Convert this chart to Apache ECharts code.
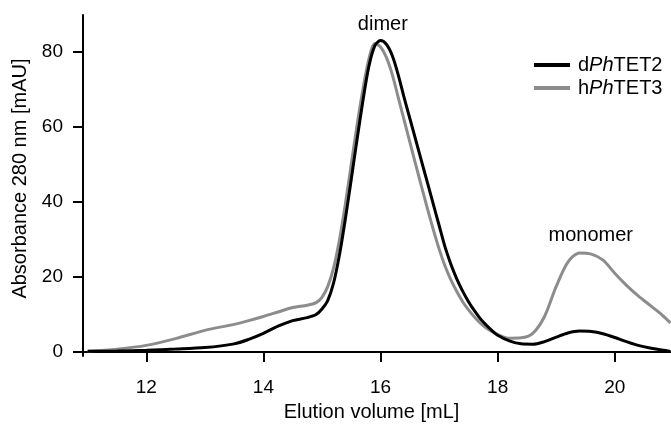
<!DOCTYPE html>
<html>
<head>
<meta charset="utf-8">
<script src="https://cdn.jsdelivr.net/npm/echarts@6/dist/echarts.min.js"></script>
<style>
html,body{margin:0;padding:0;background:#fff;}
#chart{width:671px;height:427px;}
</style>
</head>
<body>
<div id="chart"></div>
<script>
// Elution volume (mL)
const volume = [11.0, 11.5, 12.0, 12.5, 13.0, 13.5, 13.75, 14.0, 14.25, 14.5, 14.75, 14.9, 15.0, 15.1, 15.2, 15.3, 15.4, 15.5, 15.6, 15.7, 15.8, 15.9, 16.0, 16.1, 16.2, 16.3, 16.4, 16.5, 16.6, 16.7, 16.8, 16.9, 17.0, 17.1, 17.2, 17.3, 17.4, 17.5, 17.6, 17.7, 17.8, 17.9, 18.0, 18.2, 18.4, 18.6, 18.8, 19.0, 19.2, 19.4, 19.6, 19.8, 20.0, 20.2, 20.4, 20.6, 20.8, 20.95];
// Absorbance 280 nm (mAU)
const dPhTET2 = [0.2, 0.3, 0.5, 0.8, 1.2, 2.2, 3.4, 5.0, 6.9, 8.4, 9.2, 10.0, 11.5, 13.8, 18.5, 26, 35.5, 46, 56.7, 67, 76, 81.5, 83.0, 82, 79, 74, 68, 62.3, 56.6, 50.9, 45.2, 39.5, 33.8, 28.1, 23.5, 19.6, 16.3, 13.5, 11.1, 9.0, 7.3, 5.8, 4.5, 3.0, 2.2, 2.1, 2.8, 4.0, 5.1, 5.6, 5.5, 4.9, 3.9, 2.8, 1.8, 1.1, 0.6, 0.2];
const hPhTET3 = [0.2, 0.8, 1.8, 3.6, 5.8, 7.4, 8.4, 9.5, 10.7, 11.9, 12.5, 13.2, 14.6, 17.5, 22.5, 30, 39.5, 50, 60.5, 70, 78, 82.2, 81.3, 78.5, 74, 68, 62, 56, 50, 44.1, 38.3, 32.7, 27.5, 23.0, 19.3, 16.2, 13.5, 11.3, 9.4, 7.8, 6.5, 5.5, 4.7, 3.7, 3.8, 5.0, 9.5, 17.5, 24, 26.4, 26.1, 24.5, 21, 17.8, 15, 12.5, 10, 7.8];
const xTicks = [12, 14, 16, 18, 20];
const yTicks = [0, 20, 40, 60, 80];
const seriesNames = ['dPhTET2', 'hPhTET3'];
const annotations = [
  { text: 'dimer', x: 16.04, y: 87.3 },
  { text: 'monomer', x: 19.59, y: 31.2 }
];

const pair = ys => volume.map((v, i) => [v, ys[i]]);
const font = 'Liberation Sans, Arial, Helvetica, sans-serif';

const chart = echarts.init(document.getElementById('chart'));
chart.setOption({
  animation: false,
  backgroundColor: '#fff',
  textStyle: { fontFamily: font },
  grid: { left: 83, right: 0, top: 15, bottom: 69, containLabel: false },
  legend: {
    orient: 'vertical',
    left: 534,
    top: 54,
    padding: 0,
    itemWidth: 36,
    itemHeight: 4,
    itemGap: 1,
    icon: 'rect',
    data: seriesNames,
    formatter: n => '{a|' + n.charAt(0) + '}{b|Ph}{a|' + n.slice(3) + '}',
    textStyle: {
      fontFamily: font, fontSize: 20, color: '#000', lineHeight: 22, padding: [0, 0, 0, 3],
      rich: {
        a: { fontFamily: font, fontSize: 20, color: '#000', lineHeight: 22 },
        b: { fontFamily: font, fontSize: 20, color: '#000', fontStyle: 'italic', lineHeight: 22 }
      }
    }
  },
  xAxis: {
    type: 'value',
    min: 10.92,
    max: 20.96,
    name: 'Elution volume [mL]',
    nameLocation: 'middle',
    nameGap: 42,
    nameTextStyle: { fontFamily: font, fontSize: 20, color: '#000', padding: [0, 11, 0, 0] },
    splitLine: { show: false },
    axisLine: { show: true, lineStyle: { color: '#000', width: 2 } },
    axisTick: { show: true, customValues: xTicks, length: 10, lineStyle: { color: '#000', width: 2 } },
    axisLabel: { customValues: xTicks, fontFamily: font, fontSize: 19, color: '#000', margin: 22 }
  },
  yAxis: {
    type: 'value',
    min: -1.06,
    max: 89.8,
    name: 'Absorbance 280 nm [mAU]',
    nameLocation: 'middle',
    nameGap: 50,
    nameTextStyle: { fontFamily: font, fontSize: 20, color: '#000', padding: [0, 0, 0, 14] },
    splitLine: { show: false },
    axisLine: { show: true, lineStyle: { color: '#000', width: 2 } },
    axisTick: { show: true, customValues: yTicks, length: 10, lineStyle: { color: '#000', width: 2 } },
    axisLabel: { customValues: yTicks, fontFamily: font, fontSize: 19, color: '#000', margin: 20 }
  },
  series: [
    {
      name: seriesNames[1],
      type: 'line',
      data: pair(hPhTET3),
      smooth: 0.3,
      showSymbol: false,
      color: '#8c8c8c',
      lineStyle: { color: '#8c8c8c', width: 3 },
      z: 2
    },
    {
      name: seriesNames[0],
      type: 'line',
      data: pair(dPhTET2),
      smooth: 0.3,
      showSymbol: false,
      color: '#000',
      lineStyle: { color: '#000', width: 3 },
      z: 3,
      markPoint: {
        symbol: 'circle',
        symbolSize: 1,
        itemStyle: { color: 'rgba(0,0,0,0)' },
        label: { show: true, position: 'inside', color: '#000', fontFamily: font, fontSize: 20 },
        data: annotations.map(a => ({ coord: [a.x, a.y], label: { formatter: a.text } }))
      }
    }
  ]
});
</script>
</body>
</html>
